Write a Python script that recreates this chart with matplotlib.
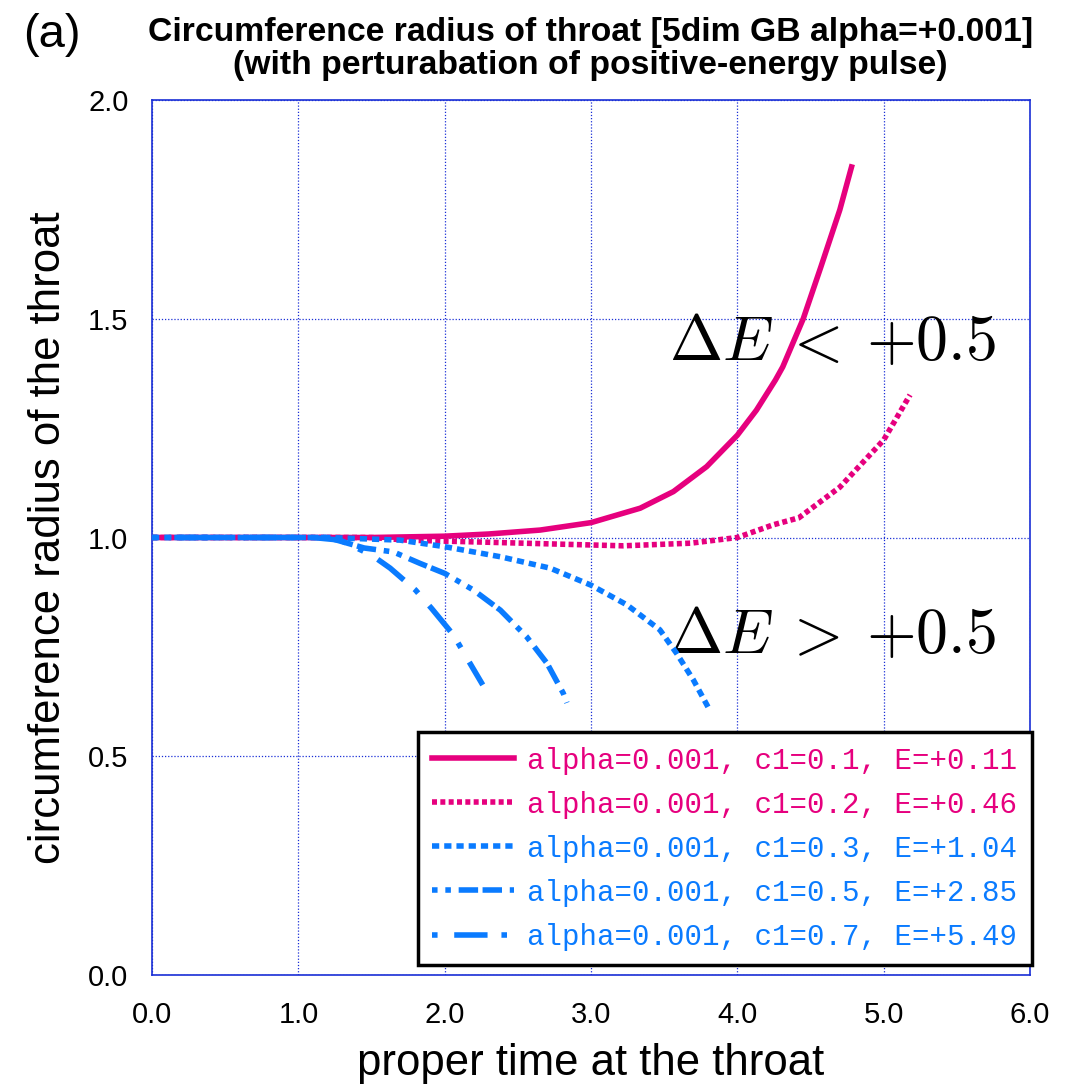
import matplotlib
matplotlib.use("Agg")
import matplotlib.pyplot as plt

# values
t_c01 = [0.0, 1.0, 1.5, 2.0, 2.3, 2.652, 3.0, 3.336, 3.563, 3.79, 4.0, 4.13, 4.26, 4.31, 4.45, 4.57, 4.70, 4.78]
r_c01 = [1.0, 1.0, 1.0, 1.003, 1.008, 1.017, 1.034, 1.067, 1.105, 1.162, 1.234, 1.291, 1.36, 1.39, 1.5, 1.618, 1.749, 1.847]

t_c02 = [0.0, 1.0, 1.5, 1.74, 2.2, 2.65, 3.22, 3.68, 4.0, 4.245, 4.42, 4.70, 5.0, 5.18]
r_c02 = [1.0, 1.0, 1.0, 0.994, 0.990, 0.986, 0.981, 0.987, 1.0, 1.029, 1.045, 1.115, 1.223, 1.326]

t_c03 = [0.0, 1.0, 1.2, 1.695, 2.0, 2.38, 2.72, 3.0, 3.245, 3.47, 3.585, 3.70, 3.81]
r_c03 = [1.0, 1.0, 1.0, 0.994, 0.979, 0.956, 0.930, 0.891, 0.846, 0.789, 0.735, 0.674, 0.606]

t_c05 = [0.0, 1.0, 1.2, 1.45, 1.65, 1.83, 2.0, 2.196, 2.38, 2.56, 2.70, 2.81, 2.835]
r_c05 = [1.0, 1.0, 1.0, 0.976, 0.967, 0.941, 0.918, 0.880, 0.834, 0.773, 0.712, 0.644, 0.622]

t_c07 = [0.0, 1.0, 1.1, 1.285, 1.50, 1.627, 1.80, 1.91, 2.06, 2.14, 2.26]
r_c07 = [1.0, 1.0, 1.0, 0.994, 0.96, 0.930, 0.88, 0.838, 0.777, 0.731, 0.663]

labels = ["alpha=0.001, c1=0.1, E=+0.11",
          "alpha=0.001, c1=0.2, E=+0.46",
          "alpha=0.001, c1=0.3, E=+1.04",
          "alpha=0.001, c1=0.5, E=+2.85",
          "alpha=0.001, c1=0.7, E=+5.49"]

xticks = [0, 1, 2, 3, 4, 5, 6]
yticks = [0.0, 0.5, 1.0, 1.5, 2.0]

pink = "#e6007e"
blue = "#0a7bff"
grid_blue = "#1a2fd6"

plt.rcParams["font.family"] = ["Liberation Sans", "DejaVu Sans"]
plt.rcParams["mathtext.fontset"] = "cm"

fig = plt.figure(figsize=(10.83, 10.84), dpi=100)
ax = fig.add_axes([0.1404, 0.1006, 0.8107, 0.8071])

lw = 4.0
ax.plot(t_c01, r_c01, color=pink, lw=lw, linestyle="-", label=labels[0], zorder=3)
ax.plot(t_c02, r_c02, color=pink, lw=lw, linestyle=(0, (0.9, 0.6)), label=labels[1], zorder=3)
ax.plot(t_c03, r_c03, color=blue, lw=lw, linestyle=(0, (1.3, 0.9)), label=labels[2], zorder=4)
ax.plot(t_c05, r_c05, color=blue, lw=lw, linestyle=(0, (1, 1.4, 1, 1.4, 3.5, 0.8, 3.5, 1.4)), label=labels[3], zorder=4)
ax.plot(t_c07, r_c07, color=blue, lw=lw, linestyle=(0, (1, 3, 6, 2.5)), label=labels[4], zorder=4)

ax.set_xlim(0, 6)
ax.set_ylim(0, 2)
ax.set_xticks(xticks)
ax.set_xticklabels([f"{v:.1f}" for v in xticks])
ax.set_yticks(yticks)
ax.set_yticklabels([f"{v:.1f}" for v in yticks])
ax.tick_params(length=0, labelsize=21)
ax.tick_params(axis="y", pad=17)
ax.tick_params(axis="x", pad=19)

ax.grid(True, color=grid_blue, linestyle=(0, (1, 1.5)), linewidth=0.9)
for s in ax.spines.values():
    s.set_color(grid_blue)
    s.set_linewidth(1.2)

ax.set_xlabel("proper time at the throat", fontsize=31.5, labelpad=10)
ax.set_ylabel("circumference radius of the throat", fontsize=31.5, labelpad=14)

fig.text(0.545, 0.984, "Circumference radius of throat [5dim GB alpha=+0.001]\n(with perturabation of positive-energy pulse)",
         ha="center", va="top", fontsize=24.3, fontweight="bold", linespacing=1.08)
fig.text(0.021, 0.988, "(a)", ha="left", va="top", fontsize=34)

ax.text(3.53, 1.406, r"$\Delta E \:<\: +0.5$", fontsize=46, va="baseline", ha="left")
ax.text(3.53, 0.736, r"$\Delta E \:>\: +0.5$", fontsize=46, va="baseline", ha="left")

leg = ax.legend(loc="lower right", bbox_to_anchor=(1.002, 0.011), prop={"family": "Liberation Mono", "size": 21},
                labelcolor=[pink, pink, blue, blue, blue], fancybox=False, framealpha=1,
                edgecolor="black", handlelength=2.8, handletextpad=0.45, labelspacing=0.55,
                borderpad=0.5, borderaxespad=0)
leg.get_frame().set_linewidth(2.5)
leg.set_zorder(10)

fig.savefig("out.png", dpi=100)
